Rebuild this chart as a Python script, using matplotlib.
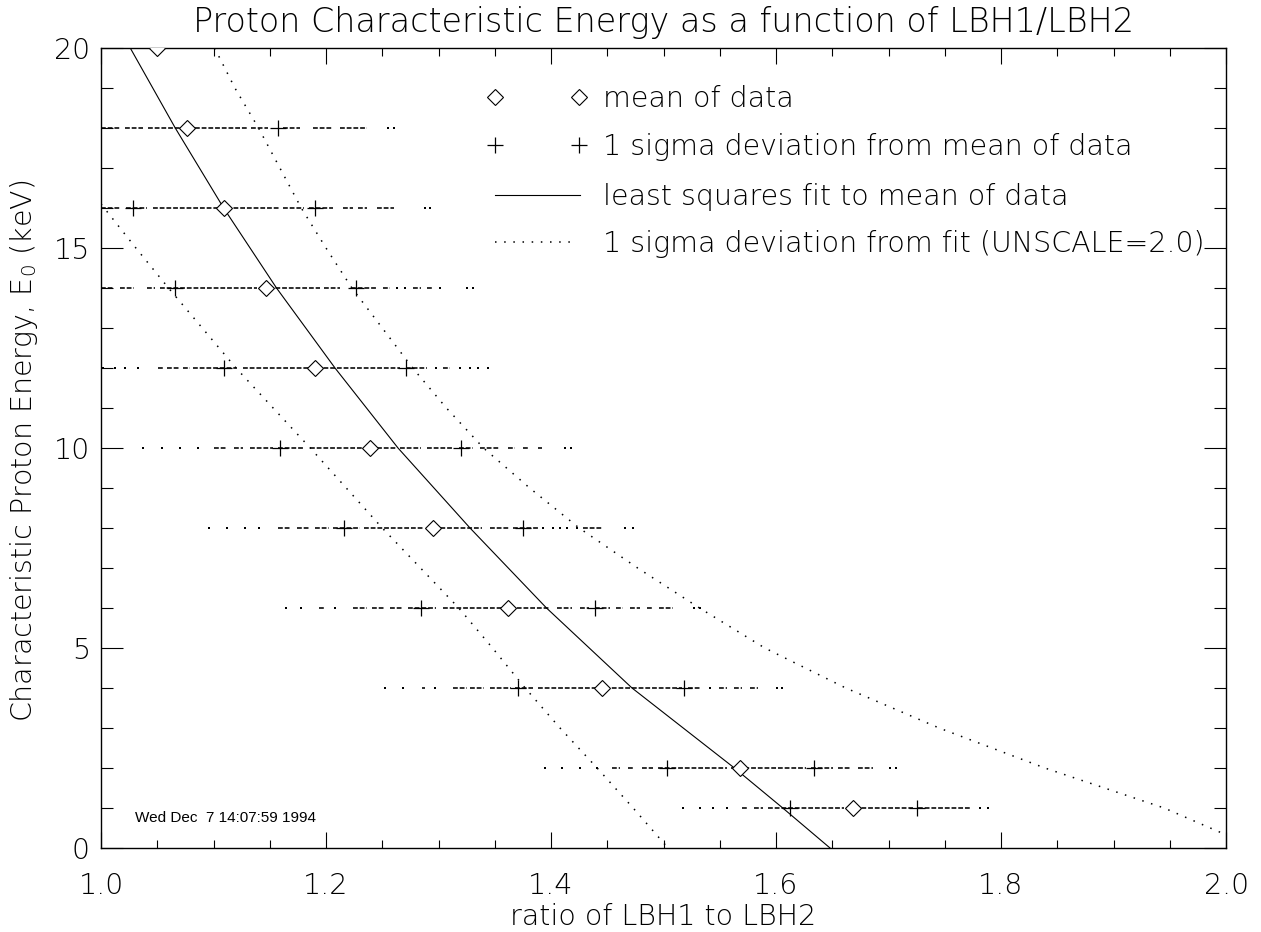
import numpy as np
import matplotlib
matplotlib.use('Agg')
import matplotlib.pyplot as plt
from matplotlib.ticker import MultipleLocator, FormatStrFormatter

plt.rcParams['font.family'] = ['DejaVu Sans']
plt.rcParams['font.weight'] = 'light'

# Energy rows (keV) and the statistics drawn on each row
energy = [20, 18, 16, 14, 12, 10, 8, 6, 4, 2, 1]
mean_ratio = [1.050, 1.076, 1.109, 1.147, 1.190, 1.239, 1.295, 1.362, 1.445, 1.568, 1.668]
sigma_low = [np.nan, 0.990, 1.028, 1.066, 1.109, 1.159, 1.216, 1.284, 1.371, 1.503, 1.612]
sigma_high = [np.nan, 1.157, 1.190, 1.227, 1.271, 1.320, 1.375, 1.439, 1.518, 1.634, 1.725]

# Raw data dots on each row, given as (start, end) runs of packed dots
dots_20 = [(1.000, 1.098), (1.102, 1.148), (1.154, 1.177), (1.190, 1.207), (1.222, 1.222), (1.236, 1.236)]
dots_18 = [(1.000, 1.017), (1.021, 1.037), (1.042, 1.130), (1.133, 1.148), (1.162, 1.177), (1.188, 1.206),
           (1.212, 1.236), (1.255, 1.255), (1.260, 1.260)]
dots_16 = [(1.000, 1.017), (1.022, 1.041), (1.046, 1.159), (1.162, 1.180), (1.185, 1.206), (1.215, 1.224),
           (1.228, 1.236), (1.245, 1.260), (1.288, 1.288), (1.292, 1.292)]
dots_14 = [(1.000, 1.011), (1.017, 1.029), (1.041, 1.048), (1.052, 1.139), (1.143, 1.195), (1.198, 1.212),
           (1.222, 1.245), (1.251, 1.257), (1.263, 1.263), (1.270, 1.270), (1.277, 1.284), (1.290, 1.295),
           (1.301, 1.301), (1.325, 1.325), (1.331, 1.331)]
dots_12 = [(1.002, 1.002), (1.012, 1.012), (1.021, 1.021), (1.033, 1.033), (1.051, 1.055), (1.059, 1.070),
           (1.073, 1.079), (1.082, 1.121), (1.126, 1.266), (1.271, 1.290), (1.298, 1.298), (1.304, 1.310),
           (1.319, 1.319), (1.328, 1.328), (1.335, 1.335), (1.344, 1.344)]
dots_10 = [(1.037, 1.037), (1.054, 1.054), (1.070, 1.070), (1.086, 1.086), (1.100, 1.112), (1.118, 1.126),
           (1.132, 1.153), (1.157, 1.180), (1.186, 1.263), (1.266, 1.284), (1.290, 1.313), (1.318, 1.331),
           (1.337, 1.355), (1.362, 1.368), (1.375, 1.380), (1.388, 1.392), (1.412, 1.412), (1.418, 1.418)]
dots_8 = [(1.096, 1.096), (1.112, 1.112), (1.128, 1.128), (1.140, 1.140), (1.157, 1.168), (1.174, 1.186),
          (1.190, 1.203), (1.206, 1.230), (1.234, 1.286), (1.290, 1.339), (1.346, 1.363), (1.366, 1.388),
          (1.393, 1.393), (1.402, 1.402), (1.408, 1.408), (1.414, 1.414), (1.423, 1.423), (1.428, 1.446),
          (1.466, 1.466), (1.473, 1.473)]
dots_6 = [(1.164, 1.164), (1.178, 1.178), (1.194, 1.199), (1.208, 1.208), (1.224, 1.236), (1.241, 1.252),
          (1.257, 1.268), (1.273, 1.298), (1.304, 1.399), (1.405, 1.419), (1.426, 1.434), (1.439, 1.452),
          (1.458, 1.464), (1.470, 1.479), (1.485, 1.490), (1.496, 1.508), (1.527, 1.527), (1.532, 1.532)]
dots_4 = [(1.252, 1.252), (1.268, 1.268), (1.285, 1.288), (1.297, 1.297), (1.313, 1.325), (1.328, 1.340),
          (1.346, 1.364), (1.368, 1.384), (1.388, 1.516), (1.522, 1.533), (1.541, 1.541), (1.549, 1.556),
          (1.563, 1.570), (1.577, 1.584), (1.601, 1.601), (1.605, 1.605)]
dots_2 = [(1.395, 1.395), (1.410, 1.410), (1.426, 1.426), (1.441, 1.441), (1.454, 1.461), (1.468, 1.473),
          (1.481, 1.491), (1.495, 1.556), (1.560, 1.627), (1.631, 1.651), (1.655, 1.666), (1.673, 1.686),
          (1.701, 1.701), (1.707, 1.707)]
dots_1 = [(1.517, 1.517), (1.532, 1.532), (1.544, 1.544), (1.556, 1.556), (1.570, 1.575), (1.580, 1.588),
          (1.593, 1.660), (1.664, 1.722), (1.726, 1.772), (1.781, 1.781), (1.788, 1.788)]
row_dots = [dots_20, dots_18, dots_16, dots_14, dots_12, dots_10, dots_8, dots_6, dots_4, dots_2, dots_1]

# least squares fit curve and its 1 sigma bounds
fit_e = [20, 18, 16, 14, 12, 10, 8, 6, 4, 2, 1, 0]
fit_x = [1.026, 1.066, 1.109, 1.156, 1.208, 1.264, 1.328, 1.396, 1.472, 1.563, 1.606, 1.648]
low_e = [16.1, 15, 14, 13, 12, 11, 10, 9, 8, 7, 6, 5, 4, 3, 2, 1, 0]
low_x = [1.000, 1.031, 1.060, 1.090, 1.120, 1.153, 1.186, 1.218, 1.250, 1.284, 1.318, 1.348, 1.377,
         1.408, 1.441, 1.473, 1.504]
high_e = [20, 19, 18, 17, 16, 15, 14, 13, 12, 11, 10, 9, 8, 7, 6, 5, 4, 3, 2, 1, 0.33]
high_x = [1.101, 1.119, 1.140, 1.159, 1.178, 1.200, 1.223, 1.250, 1.277, 1.307, 1.340, 1.381, 1.425,
          1.477, 1.532, 1.590, 1.662, 1.745, 1.839, 1.945, 2.000]

legend_labels = ['mean of data', '1 sigma deviation from mean of data',
                 'least squares fit to mean of data', '1 sigma deviation from fit (UNSCALE=2.0)']

FS = 20.5
DOT = (0, (1, 5))
fig = plt.figure(figsize=(12.61, 9.32), dpi=100)
ax = fig.add_axes([0.0801, 0.0901, 0.8922, 0.8584])

for e, runs in zip(energy, row_dots):
    for a, b in runs:
        if b - a < 0.002:
            ax.plot([a], [e], marker='s', ms=1.5, mew=0, color='black', linestyle='none')
        else:
            ax.hlines(e, a, b, colors='black', lw=1.15, linestyles=(0, (3, 1.2)))

ax.plot(mean_ratio, energy, linestyle='none', marker='D', ms=8.6, mfc='white', mec='black', mew=0.8, zorder=5)
ax.plot(sigma_low, energy, linestyle='none', marker='+', ms=12, mec='black', mew=0.9, zorder=5)
ax.plot(sigma_high, energy, linestyle='none', marker='+', ms=12, mec='black', mew=0.9, zorder=5)

ax.plot(fit_x, fit_e, color='black', lw=0.8)
ax.plot(low_x, low_e, color='black', lw=1.1, linestyle=DOT)
ax.plot(high_x, high_e, color='black', lw=1.1, linestyle=DOT)

# legend drawn in IDL style
rows = [0.939, 0.879, 0.816, 0.7575]
tr = ax.transAxes
ax.plot([0.350, 0.425], [rows[0]] * 2, transform=tr, linestyle='none', marker='D', ms=8.6,
        mfc='white', mec='black', mew=0.8)
ax.plot([0.350, 0.425], [rows[1]] * 2, transform=tr, linestyle='none', marker='+', ms=12,
        mec='black', mew=0.9)
ax.plot([0.350, 0.426], [rows[2]] * 2, transform=tr, color='black', lw=0.8)
ax.plot([0.350, 0.420], [rows[3]] * 2, transform=tr, color='black', lw=1.1, linestyle=DOT)
for r, lab in zip(rows, legend_labels):
    ax.text(0.446, r - 0.0125, lab, transform=tr, fontsize=FS, va='baseline', ha='left')

ax.set_xlim(1.0, 2.0)
ax.set_ylim(0, 20)
ax.xaxis.set_major_locator(MultipleLocator(0.2))
ax.xaxis.set_minor_locator(MultipleLocator(0.05))
ax.xaxis.set_major_formatter(FormatStrFormatter('%.1f'))
ax.yaxis.set_major_locator(MultipleLocator(5))
ax.yaxis.set_minor_locator(MultipleLocator(1))
ax.tick_params(axis='both', which='both', direction='in', top=True, right=True, width=0.8, labelsize=FS)
ax.tick_params(axis='x', which='major', length=11.5, pad=17)
ax.tick_params(axis='x', which='minor', length=5.8)
ax.tick_params(axis='y', which='major', length=15.8, pad=8)
ax.tick_params(axis='y', which='minor', length=8.4)
for s in ax.spines.values():
    s.set_linewidth(1.0)

fig.text(0.526, 0.9657, 'Proton Characteristic Energy as a function of LBH1/LBH2',
         fontsize=24, ha='center', va='baseline')
fig.text(0.526, 0.0075, 'ratio of LBH1 to LBH2', fontsize=FS, ha='center', va='baseline')
fig.text(0.019, 0.516, 'Characteristic Proton Energy, E$_0$ (keV)', fontsize=FS,
         rotation=90, ha='center', va='center')
fig.text(0.107, 0.118, 'Wed Dec  7 14:07:59 1994', fontsize=11, family='Liberation Sans',
         weight='normal', ha='left', va='baseline')

fig.savefig('out.png', dpi=100)
